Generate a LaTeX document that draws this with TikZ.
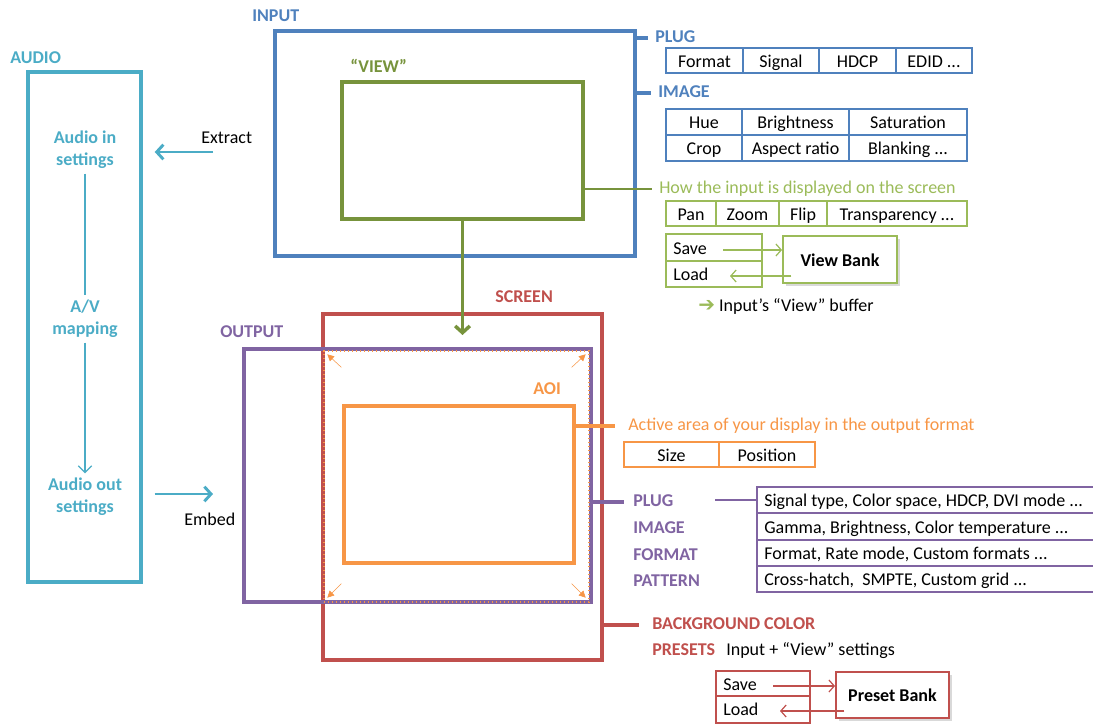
\documentclass[tikz,border=0pt]{standalone}
\usepackage{fontspec}
\setmainfont{Carlito}
\newfontfamily\arrowfont{DejaVu Sans}
\usetikzlibrary{fit,arrows.meta,shadows}

\definecolor{inblue}{HTML}{4F81BD}
\definecolor{audioaqua}{HTML}{4BACC6}
\definecolor{viewgreen}{HTML}{77933C}
\definecolor{lightgreen}{HTML}{9BBB59}
\definecolor{screenred}{HTML}{C0504D}
\definecolor{outpurple}{HTML}{8064A2}
\definecolor{aoiorange}{HTML}{F79646}

\begin{document}
\begin{tikzpicture}[x=0.75pt,y=-0.75pt,
  every node/.style={font=\fontsize{13.5}{16.5}\selectfont},
  every label/.style={text depth=0pt, text height=1.35ex, inner sep=0pt, yshift=-1.8pt},
  frame/.style={draw, line width=2.6pt, inner sep=0pt},
  cell/.style={draw, line width=1.4pt, inner sep=0pt},
  tag/.style={font=\fontsize{13.5}{16.5}\selectfont\bfseries, anchor=west, inner sep=0pt,
    text height=1.35ex, text depth=0pt, yshift=-1.5pt},
  note/.style={anchor=west, inner sep=0pt, text height=1.35ex, text depth=0pt, yshift=-1.5pt},
  audiotxt/.style={font=\fontsize{13.5}{16.5}\selectfont\bfseries, text=audioaqua, align=center},
  tick/.style={line width=2.6pt},
  bank/.style={draw, line width=1.4pt, fill=white,
    drop shadow={shadow xshift=2pt, shadow yshift=-2pt, opacity=0.3}},
  thinarrow/.style={line width=0.9pt, -{Straight Barb[length=4pt,width=9pt]}},
  cornerarrow/.style={line width=0.4pt, aoiorange, -{Triangle[length=5pt,width=5pt]}}]
  \useasboundingbox (0,0) rectangle (1093,724);

  % Audio column
  \node[tag, text=audioaqua] (audioL) at (10,57) {AUDIO};
  \node[frame, draw=audioaqua, fit={(28,72) (141,582)}] (audio) {};
  \node[audiotxt] (ain) at (85,150) {Audio in\\settings};
  \node[audiotxt] (av) at (85,319) {A/V\\mapping};
  \node[audiotxt] (aout) at (85,497) {Audio out\\settings};
  \draw[audioaqua, line width=1pt] (ain.south) -- (av.north);
  \draw[audioaqua, line width=1pt, -{Straight Barb[length=5pt,width=10pt]}] (av.south) -- (aout.north);

  % Extract and embed
  \node[note] (extract) at (201,137) {Extract};
  \coordinate (exS) at (213,152);
  \draw[audioaqua, line width=2.2pt, -{Straight Barb[length=5pt,width=11pt]}, shorten >=9pt] (exS) -- (audio.east |- exS);
  \node[note] (embed) at (184,519) {Embed};
  \coordinate (emE) at (213,494);
  \draw[audioaqua, line width=2.2pt, -{Straight Barb[length=5pt,width=11pt]}, shorten <=9pt] (audio.east |- emE) -- (emE);

  % Input and view
  \node[tag, text=inblue] (inputL) at (252,15) {INPUT};
  \node[frame, draw=inblue, fit={(275,31) (635,256)}] (input) {};
  \node[tag, text=viewgreen] (viewL) at (350,66) {“VIEW”};
  \node[frame, draw=viewgreen, fit={(342,82) (583,219)}] (view) {};

  % Input plug
  \node[tag, text=inblue] (plugL) at (655,36) {PLUG};
  \draw[tick, inblue] (input.east |- plugL) -- ([xshift=-5pt]plugL.west);
  \node[cell, draw=inblue, fit={(666,48) (743,73)}, label=center:Format] (fmt) {};
  \node[cell, draw=inblue, fit={(743,48) (819,73)}, label=center:Signal] (sgnl) {};
  \node[cell, draw=inblue, fit={(819,48) (896,73)}, label=center:HDCP] (hdcp) {};
  \node[cell, draw=inblue, fit={(896,48) (972,73)}, label=center:EDID ...] (edid) {};

  % Input image
  \node[tag, text=inblue] (imageL) at (658,91) {IMAGE};
  \draw[tick, inblue] (input.east |- imageL) -- ([xshift=-5pt]imageL.west);
  \node[cell, draw=inblue, fit={(666,109) (742,135)}, label=center:Hue] (hue) {};
  \node[cell, draw=inblue, fit={(742,109) (849,135)}, label=center:Brightness] (bright) {};
  \node[cell, draw=inblue, fit={(849,109) (967,135)}, label=center:Saturation] (sat) {};
  \node[cell, draw=inblue, fit={(666,135) (742,161)}, label=center:Crop] (crop) {};
  \node[cell, draw=inblue, fit={(742,135) (849,161)}, label=center:Aspect ratio] (aspect) {};
  \node[cell, draw=inblue, fit={(849,135) (967,161)}, label=center:Blanking ...] (blank) {};

  % View settings
  \node[note, text=lightgreen] (howL) at (659,187) {How the input is displayed on the screen};
  \draw[viewgreen, line width=2pt] (view.east |- howL) -- ([xshift=-5pt]howL.west);
  \node[cell, draw=lightgreen, fit={(666,201) (716,226)}, label=center:Pan] (pan) {};
  \node[cell, draw=lightgreen, fit={(716,201) (779,226)}, label=center:Zoom] (zoom) {};
  \node[cell, draw=lightgreen, fit={(779,201) (827,226)}, label=center:Flip] (flip) {};
  \node[cell, draw=lightgreen, fit={(827,201) (967,226)}, label=center:Transparency ...] (transp) {};

  % View bank
  \node[cell, draw=lightgreen, fit={(666,234) (762,261)}] (vsave) {};
  \node[cell, draw=lightgreen, fit={(666,261) (762,287)}] (vload) {};
  \node[note] (vsaveT) at (673,248) {Save};
  \node[note] (vloadT) at (673,274) {Load};
  \node[bank, draw=lightgreen, fit={(783,236) (897,283)}, inner sep=0pt,
    label={[font=\fontsize{13.5}{16.5}\selectfont\bfseries]center:View Bank}] (vbank) {};
  \draw[lightgreen, thinarrow] ([xshift=12pt]vsaveT.east) -- (vbank.west |- vsaveT);
  \draw[lightgreen, thinarrow] ([xshift=7pt]vbank.west |- vloadT) -- ([xshift=16pt]vloadT.east);
  \node[note] (bufL) at (698,305) {\textcolor{lightgreen}{\arrowfont\fontsize{15}{16}\selectfont ➔}\ Input’s “View” buffer};

  % Screen, output and AOI
  \node[tag, text=screenred] (screenL) at (495,296) {SCREEN};
  \node[frame, draw=screenred, fit={(323,314) (602,660)}] (screen) {};
  \node[tag, text=outpurple] (outputL) at (220,331) {OUTPUT};
  \node[frame, draw=outpurple, fit={(244,349) (591,602)}] (output) {};
  \node[draw=aoiorange, dotted, line width=1pt, inner sep=0pt, fit={(324,351) (589,602)}] (aoimax) {};
  \node[tag, text=aoiorange] (aoiL) at (533,388) {AOI};
  \node[frame, draw=aoiorange, fit={(344,406) (574,563)}] (aoi) {};
  \draw[cornerarrow] ([shift={(18,17)}]aoimax.north west) -- ([shift={(4,4)}]aoimax.north west);
  \draw[cornerarrow] ([shift={(-18,17)}]aoimax.north east) -- ([shift={(-4,4)}]aoimax.north east);
  \draw[cornerarrow] ([shift={(18,-19)}]aoimax.south west) -- ([shift={(4,-5)}]aoimax.south west);
  \draw[cornerarrow] ([shift={(-18,-19)}]aoimax.south east) -- ([shift={(-4,-5)}]aoimax.south east);

  % View goes to the screen
  \coordinate (viewTip) at (463,335);
  \draw[viewgreen, line width=2.6pt, -{Straight Barb[length=5pt,width=11pt]}] (view.south) -- (view.south |- viewTip);

  % AOI settings
  \node[note, text=aoiorange] (activeL) at (628,424) {Active area of your display in the output format};
  \draw[tick, aoiorange] (aoi.east |- activeL) -- ([xshift=-10pt]activeL.west);
  \node[cell, draw=aoiorange, fit={(624,442) (719,467)}, label=center:Size] (size) {};
  \node[cell, draw=aoiorange, fit={(719,442) (815,467)}, label=center:Position] (pos) {};

  % Output settings
  \node[tag, text=outpurple] (oplugL) at (633,500) {PLUG};
  \node[tag, text=outpurple] (oimageL) at (633,527) {IMAGE};
  \node[tag, text=outpurple] (oformatL) at (633,554) {FORMAT};
  \node[tag, text=outpurple] (opatternL) at (633,580) {PATTERN};
  \draw[tick, outpurple] (output.east |- oplugL) -- ([xshift=-7pt]oplugL.west);
  \node[cell, draw=outpurple, fit={(757,487) (1100,513)}] (osig) {};
  \node[cell, draw=outpurple, fit={(757,513) (1100,540)}] (oimg) {};
  \node[cell, draw=outpurple, fit={(757,540) (1100,566)}] (ofmt) {};
  \node[cell, draw=outpurple, fit={(757,566) (1100,592)}] (opat) {};
  \node[note] at (764,500) {Signal type, Color space, HDCP, DVI mode ...};
  \node[note] at (764,527) {Gamma, Brightness, Color temperature ...};
  \node[note] at (764,553) {Format, Rate mode, Custom formats ...};
  \node[note] at (764,579) {Cross-hatch,\ \ SMPTE, Custom grid ...};
  \coordinate (oplugE) at (715,500);
  \draw[outpurple, line width=2pt] (oplugE) -- (osig.west);

  % Screen settings
  \node[tag, text=screenred] (bgL) at (652,623) {BACKGROUND COLOR};
  \draw[tick, screenred] (screen.east |- bgL) -- ([xshift=-10pt]bgL.west);
  \node[tag, text=screenred] (presetsL) at (652,649) {PRESETS};
  \node[note] (presetsT) at (726,649) {Input + “View” settings};

  % Preset bank
  \node[cell, draw=screenred, fit={(716,671) (810,696)}] (psave) {};
  \node[cell, draw=screenred, fit={(716,696) (810,723)}] (pload) {};
  \node[note] (psaveT) at (723,684) {Save};
  \node[note] (ploadT) at (723,709) {Load};
  \node[bank, draw=screenred, fit={(836,672) (949,718)}, inner sep=0pt,
    label={[font=\fontsize{13.5}{16.5}\selectfont\bfseries]center:Preset Bank}] (pbank) {};
  \draw[screenred, thinarrow] ([xshift=12pt]psaveT.east) -- (pbank.west |- psaveT);
  \draw[screenred, thinarrow] ([xshift=7pt]pbank.west |- ploadT) -- ([xshift=16pt]ploadT.east);
\end{tikzpicture}
\end{document}
